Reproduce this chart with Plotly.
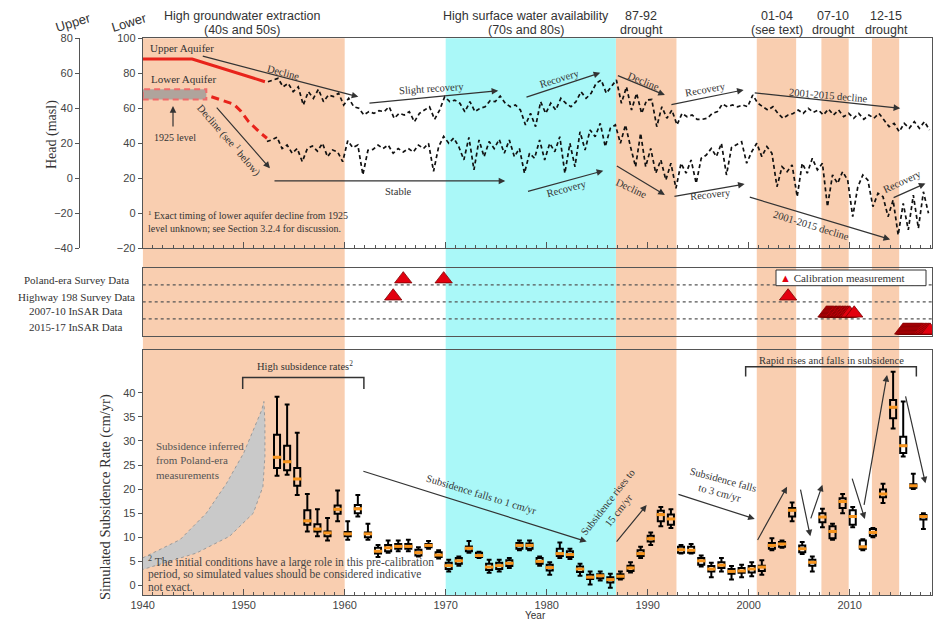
import numpy as np
import plotly.graph_objects as go

W, H = 935, 620

SERIF = "Liberation Serif, Times New Roman, serif"
SANS = "Liberation Sans, Arial, sans-serif"
INK = "#333333"
ORANGE_BAND = "#F9CEB0"
CYAN_BAND = "#AAF8F8"
RED = "#E3000F"

# ---------------- Hydraulic head (masl), half-yearly ----------------
# Upper aquifer, on the "Upper" scale; first sample at 1952.4
upper_head = [
    55.2, 56.0, 57.1, 52.3, 54.3, 49.5, 52.3, 41.9, 49.5, 45.7,
    50.9, 43.8, 47.6, 46.7, 48.6, 41.9, 45.7, 40.9, 40.0, 36.2,
    38.1, 37.1, 38.6, 38.1, 40.9, 34.3, 37.1, 36.2, 38.1, 32.3,
    37.1, 39.0, 40.9, 33.7, 39.0,
    46.6, 43.8, 44.7, 42.9, 38.0, 43.8, 38.1, 40.0, 40.9, 44.3,
    43.8, 47.0, 42.9, 40.9, 41.9, 39.0, 30.5, 37.1, 29.5, 43.8,
    37.1, 42.9, 39.0, 45.7, 42.9, 40.9, 43.8, 49.5, 45.7, 48.6,
    54.3, 56.2, 48.6, 52.3, 56.2, 42.9, 52.3, 39.0, 48.6, 37.1,
    44.7, 45.0, 29.5, 40.9, 34.3, 39.0, 30.5, 37.1, 35.2, 36.2,
    33.7, 33.7, 34.3, 37.1, 38.1, 42.5, 40.9, 41.9, 40.9, 41.9,
    40.9, 47.6, 42.9, 40.9, 39.0, 40.9, 37.1, 34.3, 36.2, 37.0,
    39.0, 37.1, 40.0, 37.7, 39.0, 36.2, 39.6, 36.2, 39.0, 35.2,
    37.1, 34.3, 37.1, 33.7, 36.2, 34.3, 37.1, 33.3, 29.5, 31.4,
    26.6, 31.4, 28.6, 32.4, 28.6, 32.4, 27.6,
]
# Lower aquifer, on the "Lower" scale; first sample at 1952.3
lower_head = [
    41.0, 42.0, 43.5, 37.0, 39.0, 34.3, 37.0, 29.5, 37.0, 38.5,
    35.5, 40.0, 32.3, 36.2, 35.0, 29.5, 41.5, 37.5, 39.0, 22.0,
    36.0, 36.5, 39.0, 37.0, 39.0, 34.3, 37.0, 35.0, 37.0, 35.0,
    39.0, 37.0, 40.0, 24.0, 38.0, 44.0,
    40.0, 43.0, 38.0, 30.5, 43.4, 24.8, 41.9, 32.3, 41.0, 37.0,
    42.3, 34.3, 41.9, 32.3, 37.1, 22.9, 34.3, 31.4, 41.9, 30.5,
    40.0, 35.2, 43.8, 22.9, 40.0, 26.6, 46.6, 36.2, 47.6, 43.8,
    51.4, 38.1, 48.6, 50.5, 40.0, 50.5, 38.0, 26.6, 45.7, 26.6,
    37.1, 22.9, 30.5, 19.0, 28.6, 14.3, 28.6, 22.9, 30.5, 17.1,
    31.4, 33.3, 37.1, 32.4, 40.0, 21.9, 37.6, 39.5, 40.9, 28.6,
    35.2, 40.0, 32.4, 38.1, 34.3, 15.2, 26.6, 23.8, 27.6, 9.5,
    28.6, 22.9, 31.4, 24.8, 28.6, 3.8, 21.9, 17.1, 23.8, 19.0,
    -1.9, 15.0, 21.9, 19.0, 3.8, 11.4, 9.5, -1.9, 7.6, -12.4,
    5.7, -9.5, 10.4, -8.6, 12.3, 0.0,
]
upper_t = 1952.4 + 0.5 * np.arange(len(upper_head))
lower_t = 1952.3 + 0.5 * np.arange(len(lower_head))

# Early reconstructed heads (before the monitoring record)
upper_early_t = [1940.0, 1944.9, 1952.1]
upper_early_head = [68.2, 68.2, 55.2]
lower_early_t = [1946.8, 1949.0, 1949.7, 1950.5, 1951.6, 1952.3]
lower_early_head = [66.6, 62.4, 58.5, 52.3, 46.2, 42.9]
level_1925_years = [1940.0, 1946.3]
level_1925_head = [65.1, 70.9]

# ---------------- Calibration measurements (decimal year) ----------------
poland_survey = [1965.8, 1969.8]
highway_survey = [1964.8, 2003.9]
insar_0710 = [2007.70, 2007.80, 2007.90, 2008.00, 2008.10, 2008.20, 2008.30,
              2008.40, 2008.55, 2008.65, 2008.75, 2008.90, 2009.00, 2009.10,
              2009.25, 2009.35, 2009.50, 2009.60, 2009.75, 2009.85, 2010.00,
              2010.45]
insar_1517 = [2015.30, 2015.40, 2015.50, 2015.60, 2015.70, 2015.80, 2015.90,
              2016.00, 2016.10, 2016.20, 2016.30, 2016.40, 2016.50, 2016.60,
              2016.70, 2016.80, 2016.90, 2017.00, 2017.10, 2017.20, 2017.35,
              2017.50, 2017.65, 2017.80, 2017.95]

# ---------------- Simulated subsidence rate (cm/yr) ----------------
box_years = list(range(1953, 2018))
box_low = [
    22.8, 23.0, 18.8, 11.2, 10.2, 9.3, 13.3,            # 1953-59
    9.5, 14.3, 9.5, 5.9, 6.8, 7.1, 7.1, 6.0, 7.6, 5.6,  # 1960s
    2.9, 4.1, 6.8, 5.7, 2.6, 2.9, 3.6, 7.3, 7.3, 4.1,   # 1970s
    2.2, 5.7, 5.5, 2.0, 0.2, 1.0, -0.5, 1.2, 2.7, 5.7,  # 1980s
    8.4, 12.3, 11.9, 6.6, 6.6, 3.9, 1.7, 2.9, 1.2, 1.7, # 1990s
    1.9, 2.2, 7.3, 7.8, 13.3, 6.5, 2.9, 12.1, 9.5, 15.0,  # 2000s
    12.1, 7.3, 10.0, 17.1, 32.6, 26.8, 20.0, 11.7,      # 2010-17
]
box_q1 = [
    24.4, 23.9, 20.7, 12.6, 11.2, 10.2, 14.9,
    10.2, 15.0, 10.0, 6.6, 7.1, 7.6, 7.6, 6.2, 7.9, 5.9,
    3.4, 4.5, 7.1, 5.9, 3.2, 3.4, 4.0, 7.6, 7.6, 4.5,
    3.1, 6.1, 5.9, 2.8, 1.3, 1.5, 0.6, 1.5, 3.0, 6.1,
    9.1, 13.3, 12.6, 6.8, 6.8, 4.3, 2.9, 3.6, 2.4, 2.6,
    2.7, 3.0, 7.6, 8.0, 14.3, 6.9, 4.1, 13.1, 9.8, 16.1,
    12.6, 7.6, 10.3, 18.3, 34.7, 27.5, 20.3, 13.7,
]
box_median = [
    26.6, 25.7, 22.1, 13.4, 11.7, 10.9, 15.8,
    10.7, 15.9, 10.7, 7.1, 7.8, 8.1, 8.1, 6.8, 8.3, 6.3,
    4.1, 5.1, 7.7, 6.2, 3.8, 4.1, 4.6, 8.3, 8.3, 5.0,
    3.7, 6.6, 6.4, 3.4, 1.7, 2.0, 1.2, 1.9, 3.6, 6.6,
    9.7, 14.7, 13.8, 7.4, 7.3, 5.1, 3.4, 4.2, 2.9, 3.0,
    3.4, 3.8, 8.3, 8.6, 15.6, 7.6, 4.8, 14.2, 11.2, 17.4,
    14.3, 8.0, 11.0, 19.0, 37.0, 29.0, 20.7, 14.3,
]
box_q3 = [
    31.3, 29.0, 24.4, 15.6, 12.7, 11.2, 16.6,
    11.1, 16.7, 11.0, 7.8, 8.4, 8.6, 8.6, 7.4, 8.6, 6.9,
    4.7, 5.7, 8.1, 6.8, 4.5, 4.7, 5.2, 8.8, 8.7, 5.7,
    4.3, 7.6, 7.1, 3.9, 2.2, 2.3, 1.7, 2.3, 4.1, 7.3,
    10.3, 15.5, 14.7, 8.0, 8.0, 5.7, 4.0, 4.8, 3.4, 3.6,
    4.0, 4.1, 8.8, 9.0, 16.1, 8.3, 5.3, 15.0, 12.3, 18.1,
    15.6, 9.3, 11.7, 19.9, 38.5, 30.9, 21.0, 14.6,
]
box_high = [
    39.2, 37.6, 31.7, 19.0, 15.8, 14.0, 19.7,
    13.3, 18.8, 12.8, 8.4, 9.3, 9.3, 9.5, 7.9, 9.2, 7.3,
    5.3, 6.0, 9.2, 7.0, 5.3, 5.3, 5.7, 9.3, 9.3, 6.0,
    4.8, 8.9, 7.6, 4.5, 2.9, 2.9, 2.4, 2.9, 4.8, 8.0,
    11.0, 16.3, 15.8, 8.4, 8.6, 6.2, 4.7, 5.7, 4.0, 4.3,
    4.8, 5.2, 9.8, 9.3, 17.2, 9.0, 6.0, 15.9, 12.8, 19.0,
    16.3, 9.6, 11.9, 21.1, 44.4, 38.2, 23.2, 15.0,
]
box_x = [y + 0.3 for y in box_years]

# Range of subsidence inferred from Poland-era measurements
poland_outer_t = [1940.0, 1943.7, 1946.3, 1948.3, 1950.0, 1950.95, 1951.8, 1952.0]
poland_outer_v = [5.7, 9.5, 15.0, 21.2, 27.5, 32.3, 36.5, 38.2]
poland_inner_t = [1952.1, 1952.1, 1951.9, 1950.95, 1948.6, 1945.3, 1942.0, 1940.0]
poland_inner_v = [33.7, 26.8, 20.5, 15.0, 10.2, 6.7, 4.6, 3.3]

# ---------------- Period shading ----------------
orange_periods = [(1940.0, 1960.0), (1986.85, 1992.85), (2000.8, 2004.7),
                  (2007.2, 2009.9), (2012.2, 2014.9)]
cyan_periods = [(1970.0, 1986.85)]


def px(x):
    return x / W


def py(y):
    return 1 - y / H


XR = [1940, 2018.15]
XDOM = [px(142.7), px(932)]
TOP_DOM = [py(248.3), py(38.3)]
MID_DOM = [py(336), py(267.7)]
BOT_DOM = [py(595), py(350)]

fig = go.Figure()

# --- top panel: heads ---
fig.add_trace(go.Scatter(x=upper_early_t, y=upper_early_head, xaxis="x", yaxis="y2",
                         mode="lines", line=dict(color="#E8231B", width=3)))
fig.add_trace(go.Scatter(x=upper_t, y=upper_head, xaxis="x", yaxis="y2", mode="lines",
                         line=dict(color="#111111", width=1.7, dash="4px,3px")))
fig.add_trace(go.Scatter(x=lower_early_t, y=lower_early_head, xaxis="x", yaxis="y",
                         mode="lines", line=dict(color="#E8231B", width=3, dash="8px,5px")))
fig.add_trace(go.Scatter(x=lower_t, y=lower_head, xaxis="x", yaxis="y", mode="lines",
                         line=dict(color="#111111", width=1.7, dash="4px,3px")))

# --- middle panel: calibration measurements ---
tri = dict(symbol="triangle-up", size=15, color=RED, line=dict(color="#7A0000", width=0.8))
row_lift = 0.33
for dates, row in [(poland_survey, 3), (highway_survey, 2), (insar_0710, 1), (insar_1517, 0)]:
    fig.add_trace(go.Scatter(x=dates, y=[row + row_lift] * len(dates), xaxis="x2", yaxis="y3",
                             mode="markers", marker=tri))

# --- bottom panel: subsidence ---
fig.add_trace(go.Scatter(x=poland_outer_t + poland_inner_t, y=poland_outer_v + poland_inner_v,
                         xaxis="x3", yaxis="y4", mode="lines", fill="toself",
                         fillcolor="#C9C9C9", line=dict(color="#9A9A9A", width=1, dash="dot")))
fig.add_trace(go.Box(x=box_x, q1=box_q1, median=box_median, q3=box_q3,
                     lowerfence=box_low, upperfence=box_high, xaxis="x3", yaxis="y4",
                     width=0.6, whiskerwidth=0.8, boxpoints=False,
                     line=dict(color="black", width=2), fillcolor="rgba(0,0,0,0)"))
fig.add_trace(go.Scatter(x=box_x, y=box_median, xaxis="x3", yaxis="y4", mode="markers",
                         marker=dict(symbol="line-ew", size=6,
                                     line=dict(color="#F7941D", width=3))))

# ---------------- Shapes ----------------
shapes = []
for x0, x1 in orange_periods:
    shapes.append(dict(type="rect", xref="x", yref="paper", x0=x0, x1=x1,
                       y0=BOT_DOM[0], y1=TOP_DOM[1], fillcolor=ORANGE_BAND,
                       line=dict(width=0), layer="below"))
for x0, x1 in cyan_periods:
    shapes.append(dict(type="rect", xref="x", yref="paper", x0=x0, x1=x1,
                       y0=BOT_DOM[0], y1=TOP_DOM[1], fillcolor=CYAN_BAND,
                       line=dict(width=0), layer="below"))
shapes.append(dict(type="rect", xref="x", yref="y", x0=level_1925_years[0], x1=level_1925_years[1],
                   y0=level_1925_head[0], y1=level_1925_head[1],
                   fillcolor="rgba(150,150,150,0.75)",
                   line=dict(color="#F06A6A", width=2, dash="6px,4px"), layer="below"))
for row in (1, 2, 3):
    shapes.append(dict(type="line", xref="x2 domain", yref="y3", x0=0, x1=1, y0=row, y1=row,
                       line=dict(color="#555555", width=1.2, dash="dot"), layer="above"))
shapes.append(dict(type="rect", xref="paper", yref="paper", x0=px(776), x1=px(926),
                   y0=py(285.7), y1=py(270), fillcolor="white",
                   line=dict(color="#333333", width=1), layer="above"))
shapes.append(dict(type="path", xref="x3", yref="y4",
                   path="M1949.9,40.8 V43.2 H1961.9 V40.8",
                   line=dict(color=INK, width=1.5)))
shapes.append(dict(type="path", xref="x3", yref="y4",
                   path="M1999.7,43.4 V45.4 H2016.6 V43.4",
                   line=dict(color=INK, width=1.5)))

# ---------------- Annotations ----------------
ann = []


def text(t, x, y, xref="paper", yref="paper", size=10.5, angle=0, family=SERIF,
         color=INK, xanchor="center", align="center"):
    ann.append(dict(text=t, x=x, y=y, xref=xref, yref=yref, showarrow=False,
                    textangle=angle, xanchor=xanchor, yanchor="middle", align=align,
                    font=dict(family=family, size=size, color=color)))


def arrow(x0, y0, x1, y1, xref, yref):
    ann.append(dict(text="", x=x1, y=y1, ax=x0, ay=y0, xref=xref, yref=yref,
                    axref=xref, ayref=yref, showarrow=True, arrowhead=2,
                    arrowsize=1.1, arrowwidth=1.2, arrowcolor=INK, standoff=0))


# Period headings, one line per annotation
for (l1, l2), x in [(("High groundwater extraction", "(40s and 50s)"), 241.7),
                    (("High surface water availability", "(70s and 80s)"), 526),
                    (("87-92", "drought"), 641), (("01-04", "(see text)"), 776.5),
                    (("07-10", "drought"), 833), (("12-15", "drought"), 886)]:
    text(l1, px(x), py(15.5), size=12.5, family=SANS)
    text(l2, px(x), py(30), size=12.5, family=SANS)
text("Upper", px(73), py(22), size=13, family=SANS, angle=-17)
text("Lower", px(129), py(22), size=13, family=SANS, angle=-17)
text("Head (masl)", px(52), py(135), size=14, angle=-90)
text("Simulated Subsidence Rate (cm/yr)", px(105), py(497), size=14.5, angle=-90)
text("Year", px(535), py(615), size=10, family=SANS)

# Top panel labels and trend arrows
text("Upper Aquifer", 1940.5, 94.3, "x", "y", size=11, xanchor="left")
text("Lower Aquifer", 1940.6, 76.6, "x", "y", size=11, xanchor="left")
text("1925 level", 1943.2, 43.4, "x", "y", size=10)
arrow(1943.0, 48.7, 1943.0, 61.3, "x", "y")
top_labels = [
    ("Decline", 1953.9, 80.7, 15),
    ("Decline (see <sup>1</sup> below)", 1948.64, 41.9, 49),
    ("Stable", 1965.3, 12.3, 0),
    ("Slight recovery", 1968.6, 71.4, -4),
    ("Recovery", 1981.3, 77.1, -17),
    ("Recovery", 1982.0, 14.3, -15),
    ("Decline", 1989.6, 75.2, 22),
    ("Decline", 1988.4, 14.3, 25),
    ("Recovery", 1995.7, 70.5, -10),
    ("Recovery", 1996.2, 10.5, -6),
    ("2001-2015 decline", 2007.9, 67.6, 5),
    ("2001-2015 decline", 2006.2, -6.7, 17),
    ("Recovery", 2015.2, 17.9, -25),
]
for t, x, y, a in top_labels:
    text(t, x, y, "x", "y", size=10.5, angle=a)
top_arrows = [
    (1945.8, 90.0, 1961.35, 66.6), (1947.2, 61.3, 1952.6, 25.7),
    (1952.9, 18.5, 1975.9, 18.5), (1962.3, 62.9, 1975.2, 70.1),
    (1977.85, 66.1, 1985.3, 80.3), (1978.0, 12.3, 1985.6, 24.3),
    (1986.9, 79.0, 1991.7, 67.6), (1986.8, 27.6, 1991.7, 10.5),
    (1992.2, 61.9, 1999.5, 70.5), (1992.5, 9.5, 1999.6, 16.7),
    (2000.45, 68.9, 2015.0, 60.0), (1999.96, 9.5, 2014.0, -14.9),
    (2014.2, 8.6, 2017.5, 17.1),
]
for a in top_arrows:
    arrow(*a, "x", "y")
text("<sup>1</sup> Exact timing of lower aquifer decline from 1925",
     px(146), py(214.5), size=10, xanchor="left", align="left")
text("level unknown; see Section 3.2.4 for discussion.",
     px(146), py(228.5), size=10, xanchor="left", align="left")

# Middle panel row labels and legend
for t, y in [("Poland-era Survey Data", 280), ("Highway 198 Survey Data", 297),
             ("2007-10 InSAR Data", 311), ("2015-17 InSAR Data", 327)]:
    text(t, px(76), py(y), size=11)
text("<span style='color:%s'>▲</span> Calibration measurement" % RED,
     px(778), py(278), size=11, xanchor="left")

# Bottom panel labels and arrows
text("High subsidence rates<sup>2</sup>", 1956.07, 45.6, "x3", "y4", size=10.5)
text("Rapid rises and falls in subsidence", 2008.2, 46.8, "x3", "y4", size=10.5)
text("Subsidence inferred<br>from Poland-era<br>measurements", 1941.1, 25.9, "x3", "y4",
     size=11, color="#555555", xanchor="left", align="left")
text("Subsidence falls to 1 cm/yr", 1973.5, 18.8, "x3", "y4", size=10.5, angle=17)
text("Subsidence rises to<br>15 cm/yr", 1986.6, 16.4, "x3", "y4", size=10.5, angle=-52)
text("Subsidence falls<br>to 3 cm/yr", 1997.3, 20.5, "x3", "y4", size=10.5, angle=15)
for line, ypix in [("<sup>2</sup> The initial conditions have a large role in this pre-calibration", 561.5),
                   ("period, so simulated values should be considered indicative", 574.5),
                   ("not exact.", 587)]:
    text(line, px(146), py(ypix), size=11.5, color="#444444", xanchor="left", align="left")
bottom_arrows = [
    (1961.7, 23.8, 1983.96, 9.1), (1986.8, 8.8, 1989.9, 16.7),
    (1992.9, 19.0, 2000.6, 13.8), (2000.8, 9.1, 2003.8, 20.5),
    (2005.1, 20.2, 2006.1, 10.2), (2006.1, 13.6, 2007.3, 20.9),
    (2010.2, 22.5, 2011.5, 13.8), (2011.4, 16.4, 2013.7, 43.7),
    (2015.5, 39.6, 2017.5, 21.2),
]
for a in bottom_arrows:
    arrow(*a, "x3", "y4")

# ---------------- Axes ----------------
line_style = dict(showline=True, linecolor="#555555", linewidth=1, showgrid=False,
                  zeroline=False)
tickfont = dict(family=SANS, size=11, color="#444444")
xcommon = dict(range=XR, domain=XDOM, mirror=True, tickmode="linear", tick0=1940, dtick=10,
               ticks="inside", ticklen=6, tickcolor="#555555",
               minor=dict(dtick=1, tick0=1940, ticks="inside", ticklen=3, tickcolor="#555555"),
               **line_style)

fig.update_layout(
    width=W, height=H, margin=dict(l=0, r=0, t=0, b=0, autoexpand=False),
    paper_bgcolor="white", plot_bgcolor="rgba(0,0,0,0)",
    showlegend=False, hovermode=False,
    shapes=shapes, annotations=ann,
    xaxis=dict(anchor="y", showticklabels=False, **xcommon),
    yaxis=dict(domain=TOP_DOM, range=[-20, 100], anchor="x", mirror=True, tickmode="linear",
               tick0=-20, dtick=20, ticks="outside", ticklen=4, tickcolor="#555555",
               tickfont=tickfont, **line_style),
    yaxis2=dict(overlaying="y", anchor="free", position=px(79), side="left",
                range=[-40, 80], tickmode="linear", tick0=-40, dtick=20, ticks="outside",
                ticklen=4, tickcolor="#555555", tickfont=tickfont, automargin=False,
                **line_style),
    xaxis2=dict(range=XR, domain=XDOM, anchor="y3", mirror=True, showticklabels=False,
                ticks="", **line_style),
    yaxis3=dict(domain=MID_DOM, range=[0, 4], anchor="x2", mirror=True,
                showticklabels=False, ticks="", **line_style),
    xaxis3=dict(anchor="y4", showticklabels=True, tickfont=tickfont, **xcommon),
    yaxis4=dict(domain=BOT_DOM, range=[-2, 48.9], anchor="x3", mirror=True,
                tickvals=[0, 5, 10, 15, 20, 25, 30, 35, 40], ticks="outside", ticklen=4,
                tickcolor="#555555", tickfont=tickfont, **line_style),
)

# The page body keeps no default margin so the figure sits at the window origin
fig.write_html("out.html",
               post_script="document.body.style.margin='0';document.body.style.overflow='hidden';")
